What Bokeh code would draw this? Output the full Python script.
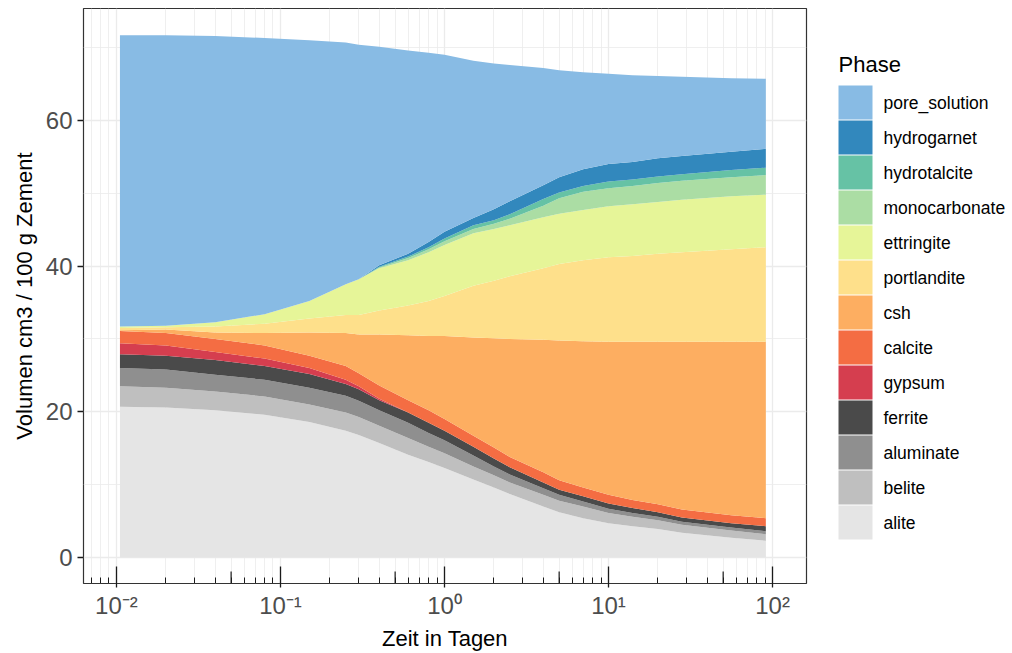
import numpy as np
from bokeh.plotting import figure
from bokeh.layouts import row
from bokeh.models import (ColumnDataSource, Range1d, FixedTicker, CustomJSTickFormatter)
from bokeh.core.properties import value
from bokeh.embed import file_html
from bokeh.resources import INLINE

# ---------------- data ----------------
time_days = [0.0105, 0.02, 0.04, 0.08, 0.15, 0.25, 0.3, 0.4, 0.6, 0.8, 1.0, 1.5, 2.0, 2.5,
             4.0, 5.0, 7.0, 10.0, 14.0, 20.0, 28.0, 56.0, 91.0]

alite         = [20.7, 20.6, 20.2, 19.6, 18.6, 17.4, 16.8, 15.7, 14.1, 13.1, 12.3, 10.7, 9.6, 8.7,
                 7.0, 6.2, 5.4, 4.7, 4.3, 3.9, 3.4, 2.7, 2.3]
belite        = [2.8, 2.7, 2.6, 2.5, 2.4, 2.5, 2.5, 2.4, 2.3, 2.1, 2.0, 1.8, 1.7, 1.6,
                 1.6, 1.6, 1.6, 1.4, 1.3, 1.2, 1.1, 1.0, 0.9]
aluminate     = [2.5, 2.5, 2.3, 2.3, 2.3, 2.3, 2.2, 2.1, 2.1, 1.9, 1.8, 1.5, 1.2, 1.1,
                 0.9, 0.8, 0.7, 0.6, 0.5, 0.5, 0.4, 0.4, 0.4]
ferrite       = [1.9, 1.9, 2.0, 1.9, 1.9, 1.6, 1.6, 1.4, 1.4, 1.4, 1.3, 1.2, 1.1, 1.0,
                 0.8, 0.7, 0.7, 0.7, 0.7, 0.6, 0.6, 0.6, 0.7]
gypsum        = [1.5, 1.4, 1.1, 1.0, 0.8, 0.6, 0.4, 0.2, 0.0, 0.0, 0.0, 0.0, 0.0, 0.0,
                 0.0, 0.0, 0.0, 0.0, 0.0, 0.0, 0.0, 0.0, 0.0]
calcite       = [1.7, 1.7, 1.8, 1.8, 1.7, 1.9, 1.8, 1.8, 1.7, 1.7, 1.6, 1.5, 1.5, 1.4,
                 1.4, 1.3, 1.2, 1.2, 1.1, 1.1, 1.1, 1.1, 1.1]
csh           = [0.1, 0.5, 0.9, 1.7, 3.2, 4.5, 5.3, 7.0, 8.9, 10.2, 11.4, 13.5, 15.0, 16.2,
                 18.2, 19.2, 20.1, 21.0, 21.7, 22.3, 23.0, 23.8, 24.2]
portlandite   = [0.3, 0.3, 0.8, 1.3, 1.9, 2.5, 2.7, 3.3, 4.1, 4.8, 5.5, 7.1, 7.9, 8.6,
                 9.8, 10.5, 11.1, 11.6, 11.8, 12.1, 12.3, 12.7, 13.0]
ettringite    = [0.2, 0.2, 0.6, 1.3, 2.4, 4.2, 4.9, 5.8, 6.2, 6.7, 7.0, 7.2, 7.1, 7.0,
                 7.0, 6.9, 6.9, 7.0, 7.1, 7.1, 7.2, 7.3, 7.2]
monocarbonate = [0.0, 0.0, 0.0, 0.0, 0.0, 0.0, 0.0, 0.1, 0.3, 0.4, 0.5, 0.6, 0.7, 0.9,
                 1.6, 2.1, 2.5, 2.5, 2.5, 2.6, 2.6, 2.6, 2.7]
hydrotalcite  = [0.0, 0.0, 0.0, 0.0, 0.0, 0.0, 0.0, 0.1, 0.2, 0.3, 0.4, 0.5, 0.5, 0.6,
                 0.9, 0.8, 0.8, 0.9, 0.9, 0.9, 0.9, 1.0, 1.0]
hydrogarnet   = [0.0, 0.0, 0.0, 0.0, 0.0, 0.0, 0.0, 0.2, 0.4, 0.7, 0.9, 1.0, 1.5, 1.8,
                 1.9, 2.1, 2.3, 2.4, 2.4, 2.5, 2.5, 2.5, 2.6]
pore_solution = [40.0, 39.9, 39.3, 37.9, 35.8, 33.2, 32.2, 30.0, 27.9, 26.0, 24.3, 21.6, 20.0, 18.7,
                 16.1, 14.7, 13.3, 12.4, 11.9, 11.3, 10.9, 10.1, 9.6]

phases = ["alite", "belite", "aluminate", "ferrite", "gypsum", "calcite", "csh",
          "portlandite", "ettringite", "monocarbonate", "hydrotalcite", "hydrogarnet", "pore_solution"]
colors = ["#E5E5E5", "#BFBFBF", "#8F8F8F", "#4A4A4A", "#D53E4F", "#F46D43", "#FDAE61",
          "#FEE08B", "#E6F598", "#ABDDA4", "#66C2A5", "#3288BD", "#88BBE4"]

x_major = [0.01, 0.1, 1, 10, 100]
y_major = [0, 20, 40, 60]
y_minor = [10, 30, 50, 70]

data = dict(t=time_days, alite=alite, belite=belite, aluminate=aluminate, ferrite=ferrite,
            gypsum=gypsum, calcite=calcite, csh=csh, portlandite=portlandite,
            ettringite=ettringite, monocarbonate=monocarbonate, hydrotalcite=hydrotalcite,
            hydrogarnet=hydrogarnet, pore_solution=pore_solution)
source = ColumnDataSource(data)

FONT = "Liberation Sans"
TOP, BOTTOM = 8, 583   # frame edges in page pixels

p = figure(width=826, height=653, x_axis_type="log",
           x_range=Range1d(10 ** -2.201, 10 ** 2.207), y_range=Range1d(-3.57, 75.36),
           output_backend="svg", toolbar_location=None,
           min_border_left=83, min_border_right=20, min_border_top=TOP, min_border_bottom=653 - BOTTOM)
p.background_fill_color = "white"
p.border_fill_color = "white"
p.outline_line_color = "#333333"
p.outline_line_width = 1.2

renderers = p.varea_stack(stackers=phases, x="t", color=colors, source=source)

# ---- axes ----
minor_x = [m * 10.0 ** k for k in range(-3, 3) for m in range(2, 10)]
p.xaxis.ticker = FixedTicker(ticks=x_major, minor_ticks=minor_x)
p.xaxis.formatter = CustomJSTickFormatter(code="""
    const e = Math.round(Math.log10(tick));
    const sup = {"-": "\u207b", "0": "\u2070", "1": "\u00b9", "2": "\u00b2", "3": "\u00b3",
                 "4": "\u2074", "5": "\u2075", "6": "\u2076", "7": "\u2077", "8": "\u2078", "9": "\u2079"};
    return "10" + String(e).split("").map(c => sup[c]).join("");
""")
p.yaxis.ticker = FixedTicker(ticks=y_major, minor_ticks=y_minor)

for ax in (p.xaxis[0], p.yaxis[0]):
    ax.axis_line_color = None
    ax.major_tick_line_color = "#1a1a1a"
    ax.major_tick_line_width = 1.3
    ax.major_label_text_font = FONT
    ax.major_label_text_font_size = "24px"
    ax.major_label_text_color = "#4d4d4d"
    ax.axis_label_text_font = FONT
    ax.axis_label_text_font_size = "22px"
    ax.axis_label_text_font_style = "normal"
    ax.axis_label_text_color = "#000000"

p.xaxis.axis_label = "Zeit in Tagen"
p.xaxis.major_tick_in = 17
p.xaxis.major_tick_out = 4
p.xaxis.minor_tick_in = 6
p.xaxis.minor_tick_out = 0
p.xaxis.minor_tick_line_color = "#1a1a1a"
p.xaxis.minor_tick_line_width = 1.0
p.xaxis.major_label_standoff = 4
p.xaxis.axis_label_standoff = 4

p.yaxis.axis_label = "Volumen cm3 / 100 g Zement"
p.yaxis.major_tick_in = 0
p.yaxis.major_tick_out = 6
p.yaxis.minor_tick_line_color = None
p.yaxis.major_label_standoff = 5
p.yaxis.axis_label_standoff = 6

# ---- grid ----
p.xgrid.grid_line_color = "#EBEBEB"
p.xgrid.grid_line_width = 1.3
p.xgrid.minor_grid_line_color = "#EBEBEB"
p.xgrid.minor_grid_line_width = 0.8
p.ygrid.grid_line_color = "#EBEBEB"
p.ygrid.grid_line_width = 1.3
p.ygrid.minor_grid_line_color = "#EBEBEB"
p.ygrid.minor_grid_line_width = 0.8

# medium log ticks at 5 x 10^k (inside the panel, from the bottom)
p.extra_y_ranges = {"px": Range1d(0, BOTTOM - TOP)}
mid_x = [5 * 10.0 ** k for k in range(-3, 3)]
p.segment(x0=mid_x, x1=mid_x, y0=[0] * len(mid_x), y1=[12] * len(mid_x),
          y_range_name="px", line_color="#1a1a1a", line_width=1.2)

# ---- legend: narrow figure to the right; its frame is aligned with the main frame,
#      so its y range is given in page pixels (growing downward) ----
LEG_W = 186
leg = figure(width=LEG_W, height=653, output_backend="svg", toolbar_location=None,
             x_range=Range1d(0, LEG_W), y_range=Range1d(BOTTOM, TOP),
             x_axis_location=None, y_axis_location=None,
             min_border_left=0, min_border_right=0, min_border_top=TOP, min_border_bottom=653 - BOTTOM)
leg.grid.visible = False
leg.outline_line_color = None
leg.background_fill_color = "white"
leg.border_fill_color = "white"

key_left, key_size, key_pitch, first_top = 12, 34, 35, 85
legend_names = phases[::-1]
legend_colors = colors[::-1]
idx = np.arange(len(legend_names))
tops = first_top + key_pitch * idx
leg_src = ColumnDataSource(dict(name=legend_names, color=legend_colors,
                                top=tops, bottom=tops + key_size, mid=tops + key_size / 2))
leg.quad(left=key_left, right=key_left + key_size, top="top", bottom="bottom",
         fill_color="color", line_color=None, source=leg_src)
leg.text(x=key_left + key_size + 11, y="mid", text="name", source=leg_src,
         text_font=value(FONT), text_font_size="17.5px", text_color="#000000",
         text_baseline="middle", text_align="left")
leg.text(x=[key_left], y=[first_top - 21], text=["Phase"],
         text_font=value(FONT), text_font_size="22px", text_color="#000000",
         text_baseline="middle", text_align="left")

layout = row(p, leg)
open("out.html", "w").write(file_html(layout, INLINE))
